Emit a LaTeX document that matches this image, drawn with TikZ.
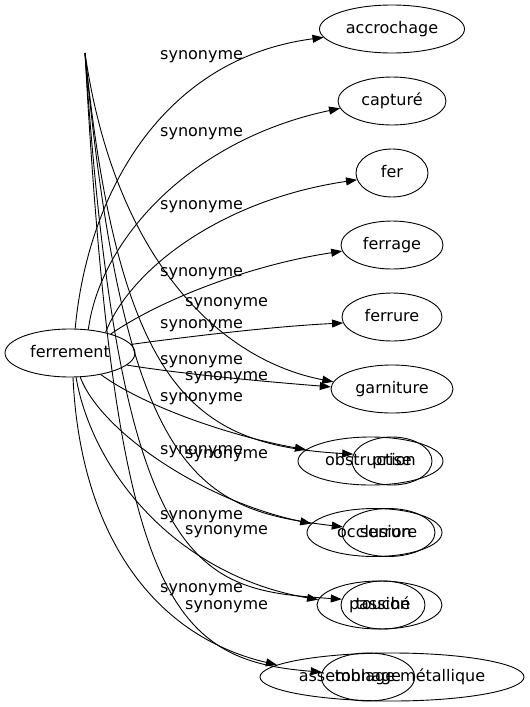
\documentclass[tikz,border=0pt]{standalone}
\usepackage{fontspec}
\setmainfont{DejaVu Sans}
\usetikzlibrary{shapes.geometric,arrows.meta}
\begin{document}
\begin{tikzpicture}[x=1pt,y=-1pt,
  word/.style={draw, ellipse, inner sep=0pt, minimum height=48pt, text height=12pt, text depth=3pt, font=\fontsize{16}{19}\selectfont, line width=0.9pt},
  edge/.style={line width=0.9pt, -{Triangle[length=11pt,width=8pt]}},
  lab/.style={anchor=base west, inner sep=0pt, font=\fontsize{16}{19}\selectfont}]
\useasboundingbox (0,0) rectangle (530,707);
% nodes
\node[word, minimum width=130pt] (fe) at (70,353) {ferrement};
\node[word, minimum width=145pt] (acc) at (392,29) {accrochage};
\node[word, minimum width=108pt] (cap) at (392,101) {capturé};
\node[word, minimum width=72pt] (fer) at (392,173) {fer};
\node[word, minimum width=102pt] (frg) at (392,245) {ferrage};
\node[word, minimum width=100pt] (frr) at (392,317) {ferrure};
\node[word, minimum width=122pt] (gar) at (392,389) {garniture};
\node[word, minimum width=145pt] (obs) at (370.5,461) {obstruction};
\node[word, minimum width=80pt] (pr) at (392,461) {prise};
\node[word, minimum width=135pt] (occ) at (374.5,532.5) {occlusion};
\node[word, minimum width=93pt] (ser) at (388.5,532.5) {serrure};
\node[word, minimum width=125pt] (pas) at (379.5,605) {passion};
\node[word, minimum width=84pt] (tou) at (383,605) {touché};
\node[word, minimum width=264pt] (ass) at (392,677) {assemblage métallique};
\node[word, minimum width=90pt] (ton) at (368,677) {tonnage};
\coordinate (top) at (85,53);
% edges from ferrement
\draw[edge] (fe.78) .. controls (88,190) and (165,58) .. (acc.187);
\draw[edge] (fe.52) .. controls (100,240) and (190,140) .. (cap.188);
\draw[edge] (fe.30) .. controls (130,270) and (220,200) .. (fer.191);
\draw[edge] (fe.25) .. controls (160,300) and (250,265) .. (frg.187);
\draw[edge] (fe.8) .. controls (200,335) and (280,326) .. (frr.187);
\draw[edge] (fe.-12) .. controls (190,375) and (270,382) .. (gar.178);
\draw[edge] (fe.-35) .. controls (150,410) and (240,438) .. (obs.170);
\draw[edge] (fe.-67) .. controls (100,430) and (200,500) .. (occ.172);
\draw[edge] (fe.-76) .. controls (92,470) and (175,575) .. (pas.175);
\draw[edge] (fe.-83) .. controls (80,530) and (150,635) .. (ass.174);
% edges from the top point
\draw[edge] (top) .. controls (115,260) and (220,360) .. (gar.173);
\draw[edge] (top) .. controls (120,400) and (200,445) .. (pr.170);
\draw[edge] (top) .. controls (125,480) and (200,510) .. (ser.173);
\draw[edge] (top) .. controls (120,580) and (200,590) .. (tou.172);
\draw[edge] (top) .. controls (115,600) and (170,660) .. (ton.174);
% labels
\node[lab] (l1) at (160,59) {synonyme};
\node[lab] (l2) at (160,136) {synonyme};
\node[lab] (l3) at (160,209) {synonyme};
\node[lab] (l4) at (160,276) {synonyme};
\node[lab] (l5) at (185,306) {synonyme};
\node[lab] (l6) at (160,328) {synonyme};
\node[lab] (l7) at (160,364) {synonyme};
\node[lab] (l8) at (185,380) {synonyme};
\node[lab] (l9) at (160,401) {synonyme};
\node[lab] (l10) at (160,454) {synonyme};
\node[lab] (l11) at (185,458) {synonyme};
\node[lab] (l12) at (160,519) {synonyme};
\node[lab] (l13) at (185,534) {synonyme};
\node[lab] (l14) at (160,592) {synonyme};
\node[lab] (l15) at (185,609) {synonyme};
\end{tikzpicture}
\end{document}
